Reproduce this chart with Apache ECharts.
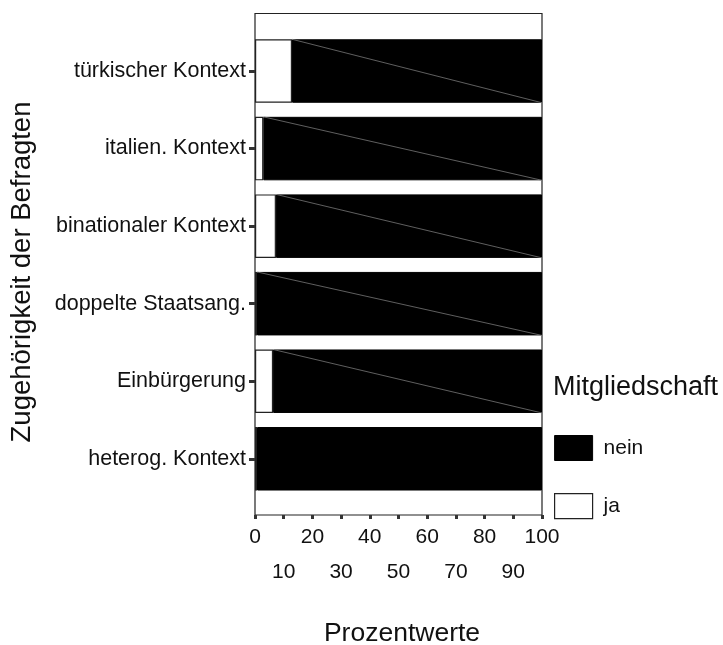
<!DOCTYPE html>
<html>
<head>
<meta charset="utf-8">
<script src="https://cdn.jsdelivr.net/npm/echarts@6/dist/echarts.min.js"></script>
<style>html,body{margin:0;padding:0;background:#fff}#c{width:723px;height:645px}</style>
</head>
<body>
<div id="c"></div>
<script>
var categories = ['türkischer Kontext', 'italien. Kontext', 'binationaler Kontext', 'doppelte Staatsang.', 'Einbürgerung', 'heterog. Kontext'];
var jaValues = [12.9, 2.9, 7.3, 0.7, 6.3, 0.7];
var neinValues = [87.1, 97.1, 92.7, 99.3, 93.7, 99.3];
var diagonalShown = [1, 1, 1, 1, 1, 0];
var xTicksMain = [0, 20, 40, 60, 80, 100];
var xTicksSecond = [10, 30, 50, 70, 90];
var seriesNames = ['nein', 'ja'];

var FONT = 'Liberation Sans, Arial, sans-serif';
var chart = echarts.init(document.getElementById('c'), null, {renderer: 'canvas'});

var diagData = categories.map(function (c, i) { return [jaValues[i], i, diagonalShown[i]]; });

var option = {
  animation: false,
  backgroundColor: '#fff',
  textStyle: {fontFamily: FONT},
  grid: [
    {left: 255, width: 287, top: 13.5, height: 501.5, show: true, borderColor: '#222', borderWidth: 1.2, backgroundColor: 'transparent'},
    {left: 255, width: 287, top: 32.25, height: 465.3}
  ],
  xAxis: [
    {type: 'value', gridIndex: 0, min: 0, max: 100, interval: 10, position: 'bottom',
     axisLine: {show: false}, splitLine: {show: false},
     axisTick: {show: true, length: 4, lineStyle: {color: '#333', width: 3}},
     axisLabel: {margin: 12, fontSize: 21, color: '#111', fontFamily: FONT,
       formatter: function (v) { return xTicksMain.indexOf(v) >= 0 ? String(v) : ''; }}},
    {type: 'value', gridIndex: 0, min: 0, max: 100, interval: 10, position: 'bottom', offset: 35,
     axisLine: {show: false}, splitLine: {show: false}, axisTick: {show: false},
     axisLabel: {margin: 12, fontSize: 21, color: '#111', fontFamily: FONT,
       formatter: function (v) { return xTicksSecond.indexOf(v) >= 0 ? String(v) : ''; }}},
    {type: 'value', gridIndex: 1, min: 0, max: 100, show: false}
  ],
  yAxis: [
    {type: 'value', gridIndex: 0, show: false},
    {type: 'category', gridIndex: 1, data: categories, inverse: true,
     axisLine: {show: false},
     axisTick: {show: true, alignWithLabel: true, length: 6, lineStyle: {color: '#333', width: 3}},
     axisLabel: {margin: 9, fontSize: 21.5, color: '#111', fontFamily: FONT}}
  ],
  legend: {
    orient: 'vertical', left: 554, top: 435, padding: 0, itemWidth: 38, itemHeight: 25, itemGap: 32,
    icon: 'rect',
    textStyle: {fontSize: 21, color: '#111', fontFamily: FONT, padding: [0, 0, 0, 6]},
    data: [
      {name: seriesNames[0], itemStyle: {color: '#000', borderColor: '#000', borderWidth: 1}},
      {name: seriesNames[1], itemStyle: {color: '#fff', borderColor: '#222', borderWidth: 1.2}}
    ]
  },
  graphic: [
    {type: 'text', left: 553, top: 374, style: {text: 'Mitgliedschaft', font: '27px ' + FONT, fill: '#111'}},
    {type: 'text', x: 22, y: 272, rotation: Math.PI / 2,
     style: {text: 'Zugehörigkeit der Befragten', font: '27.5px ' + FONT, fill: '#111', textAlign: 'center', textVerticalAlign: 'middle'}},
    {type: 'text', x: 402, y: 634,
     style: {text: 'Prozentwerte', font: '26.5px ' + FONT, fill: '#111', textAlign: 'center', textVerticalAlign: 'middle'}}
  ],
  series: [
    {name: seriesNames[1], type: 'bar', stack: 's', xAxisIndex: 2, yAxisIndex: 1, barWidth: 63.5,
     itemStyle: {color: '#fff', borderColor: '#222', borderWidth: 1.2}, data: jaValues},
    {name: seriesNames[0], type: 'bar', stack: 's', xAxisIndex: 2, yAxisIndex: 1, barWidth: 63.5,
     itemStyle: {color: '#000', borderColor: '#000', borderWidth: 1}, data: neinValues},
    {type: 'custom', xAxisIndex: 2, yAxisIndex: 1, silent: true, z: 5,
     data: diagData,
     renderItem: function (params, api) {
       if (!api.value(2)) return null;
       var s = api.coord([api.value(0), api.value(1)]);
       var e = api.coord([100, api.value(1)]);
       var h = 63.5;
       return {type: 'line', shape: {x1: s[0], y1: s[1] - h / 2, x2: e[0], y2: e[1] + h / 2},
               style: {stroke: '#888', lineWidth: 0.7}};
     }}
  ]
};
chart.setOption(option);
</script>
</body>
</html>
